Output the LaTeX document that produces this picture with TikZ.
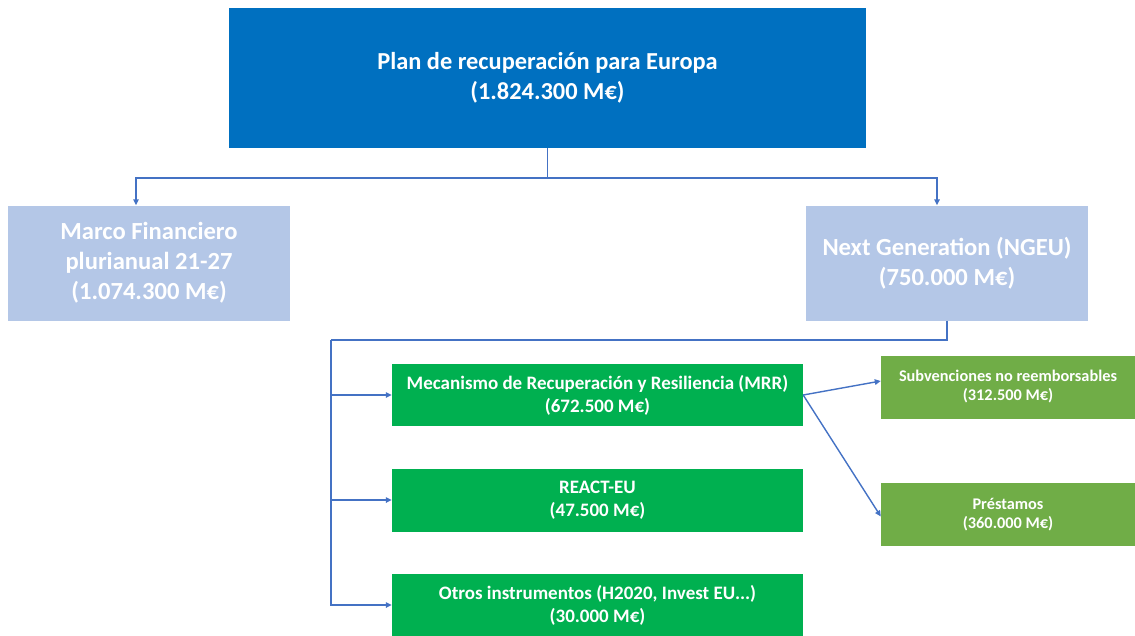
\documentclass[tikz,border=0pt]{standalone}
\usepackage{fontspec}
\setmainfont{Carlito}
\usetikzlibrary{positioning,arrows.meta}
\definecolor{planblue}{HTML}{0070C0}
\definecolor{paleblue}{HTML}{B4C7E7}
\definecolor{mrrgreen}{HTML}{00B050}
\definecolor{leafgreen}{HTML}{70AD47}
\definecolor{linkblue}{HTML}{4472C4}
\begin{document}
\begin{tikzpicture}[
    x=1pt, y=-1pt, >={Triangle[length=6pt,width=5.5pt]},
    box/.style={fill=#1, text=white, align=center, inner sep=2pt, font=\bfseries},
    big/.style={font=\bfseries\fontsize{24.4}{30}\selectfont},
    mid/.style={font=\bfseries\fontsize{24.6}{30}\selectfont},
    small/.style={font=\bfseries\fontsize{19}{23}\selectfont},
    tiny/.style={font=\bfseries\fontsize{16.3}{19}\selectfont},
    link/.style={draw=linkblue, line width=1.4pt},
    flow/.style={->, draw=linkblue, line width=1.4pt},
]
\useasboundingbox (0,0) rectangle (1135,635);
% top
\node[box=planblue, big, minimum width=637pt, minimum height=140pt] (plan) at (547.5,78)
    {Plan de recuperación para Europa\\(1.824.300 M€)};

% second level
\node[box=paleblue, mid, minimum width=282pt, minimum height=115pt] (mf) at (149,263)
    {Marco Financiero\\plurianual 21-27\\(1.074.300 M€)};
\node[box=paleblue, mid, minimum width=282pt, minimum height=115pt] (ngeu) at (947,263)
    {Next Generation (NGEU)\\(750.000 M€)};
\coordinate (split) at (547.5,178);
\draw[link] (plan.south) -- (split);
\draw[flow] (split) -| ([xshift=-13pt]mf.north);
\draw[flow] (split) -| ([xshift=-10pt]ngeu.north);

% NGEU instruments
\node[box=mrrgreen, small, minimum width=411pt, minimum height=62pt] (mrr) at (597.5,395)
    {Mecanismo de Recuperación y Resiliencia (MRR)\\(672.500 M€)};
\node[box=mrrgreen, small, minimum width=411pt, minimum height=63pt] (react) at (597.5,500)
    {REACT-EU\\(47.500 M€)};
\node[box=mrrgreen, small, minimum width=411pt, minimum height=62pt] (otros) at (597.5,605)
    {Otros instrumentos (H2020, Invest EU...)\\(30.000 M€)};
\coordinate (bus) at (331,340);
\draw[link] (ngeu.south) |- (bus);
\draw[flow] (bus) |- (mrr.west);
\draw[flow] (bus) |- (react.west);
\draw[flow] (bus) |- (otros.west);

% MRR split
\node[box=leafgreen, tiny, minimum width=254pt, minimum height=63pt] (subv) at (1008,387)
    {Subvenciones no reemborsables\\(312.500 M€)};
\node[box=leafgreen, tiny, minimum width=254pt, minimum height=63pt] (prest) at (1008,514.5)
    {Préstamos\\(360.000 M€)};
\draw[flow] (mrr.east) -- ([yshift=6pt]subv.west);
\draw[flow] (mrr.east) -- ([yshift=-2pt]prest.west);
\end{tikzpicture}
\end{document}
